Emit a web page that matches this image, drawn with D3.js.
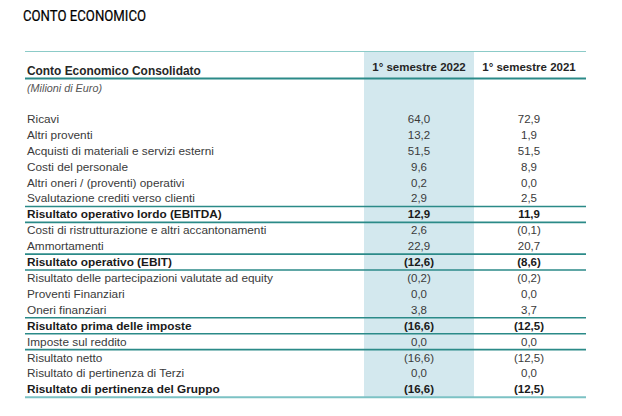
<!DOCTYPE html>
<html>
<head>
<meta charset="utf-8">
<script src="https://cdn.jsdelivr.net/npm/d3@7"></script>
<style>
  body { margin: 0; background: #fff; }
  svg { display: block; }
</style>
</head>
<body>
<script>
// righe del conto economico
var labels = [
  "Ricavi",
  "Altri proventi",
  "Acquisti di materiali e servizi esterni",
  "Costi del personale",
  "Altri oneri / (proventi) operativi",
  "Svalutazione crediti verso clienti",
  "Risultato operativo lordo (EBITDA)",
  "Costi di ristrutturazione e altri accantonamenti",
  "Ammortamenti",
  "Risultato operativo (EBIT)",
  "Risultato delle partecipazioni valutate ad equity",
  "Proventi Finanziari",
  "Oneri finanziari",
  "Risultato prima delle imposte",
  "Imposte sul reddito",
  "Risultato netto",
  "Risultato di pertinenza di Terzi",
  "Risultato di pertinenza del Gruppo"
];
var values2022 = [64.0, 13.2, 51.5, 9.6, 0.2, 2.9, 12.9, 2.6, 22.9, -12.6, -0.2, 0.0, 3.8, -16.6, 0.0, -16.6, 0.0, -16.6];
var values2021 = [72.9, 1.9, 51.5, 8.9, 0.0, 2.5, 11.9, -0.1, 20.7, -8.6, -0.2, 0.0, 3.7, -12.5, 0.0, -12.5, 0.0, -12.5];
var columns = ["1° semestre 2022", "1° semestre 2021"];
var boldRows = [6, 9, 13, 17];
var lineAfter = [5, 6, 8, 9, 12, 13, 14]; // righe seguite da un filetto

var width = 622, height = 416;
var left = 25, right = 586;

var svg = d3.select("body").append("svg")
    .attr("width", width)
    .attr("height", height);

var y = d3.scaleBand()
    .domain(d3.range(labels.length))
    .range([111, 397.3]);

var x = d3.scaleBand()
    .domain(columns)
    .range([364, 584]);

function fmt(v) {
  var s = Math.abs(v).toFixed(1).replace(".", ",");
  return v < 0 ? "(" + s + ")" : s;
}

// titolo
svg.append("text")
    .attr("x", 23)
    .attr("y", 21)
    .attr("textLength", 123)
    .attr("lengthAdjust", "spacingAndGlyphs")
    .style("font-family", "Roboto, sans-serif")
    .style("font-size", "14px")
    .style("fill", "#000")
    .style("stroke", "#000")
    .style("stroke-width", 0.2)
    .text("CONTO ECONOMICO");

// colonna evidenziata
svg.append("rect")
    .attr("x", x(columns[0]))
    .attr("y", 51)
    .attr("width", 110)
    .attr("height", 346)
    .attr("fill", "#d3e8ee");

// filetti
svg.append("line")
    .attr("x1", left).attr("x2", right)
    .attr("y1", 51.5).attr("y2", 51.5)
    .attr("stroke", "#8ccbc8").attr("stroke-width", 1.2);

svg.append("line")
    .attr("x1", left).attr("x2", right)
    .attr("y1", 78.5).attr("y2", 78.5)
    .attr("stroke", "#2b8a88").attr("stroke-width", 2.2);

svg.selectAll(".sep")
    .data(lineAfter)
    .enter().append("line")
    .attr("class", "sep")
    .attr("x1", left).attr("x2", right)
    .attr("y1", function(d) { return y(d) + y.bandwidth(); })
    .attr("y2", function(d) { return y(d) + y.bandwidth(); })
    .attr("stroke", "#2b8a88").attr("stroke-width", 1.6);

svg.append("line")
    .attr("x1", left).attr("x2", right)
    .attr("y1", 397.3).attr("y2", 397.3)
    .attr("stroke", "#7cc2c4").attr("stroke-width", 2);

var font = "'Liberation Sans', Arial, sans-serif";

// intestazione
svg.append("text")
    .attr("x", 27).attr("y", 75)
    .style("font-family", font)
    .style("font-size", "11.9px")
    .style("font-weight", "bold")
    .style("fill", "#262626")
    .text("Conto Economico Consolidato");

svg.selectAll(".colhead")
    .data(columns)
    .enter().append("text")
    .attr("class", "colhead")
    .attr("x", function(d) { return x(d) + x.bandwidth() / 2; })
    .attr("y", 71)
    .attr("text-anchor", "middle")
    .style("font-family", font)
    .style("font-size", "11.5px")
    .style("font-weight", "bold")
    .style("fill", "#262626")
    .text(function(d) { return d; });

svg.append("text")
    .attr("x", 27).attr("y", 92)
    .style("font-family", font)
    .style("font-size", "10.8px")
    .style("font-style", "italic")
    .style("fill", "#555")
    .text("(Milioni di Euro)");

// righe
var row = svg.selectAll(".row")
    .data(labels)
    .enter().append("g")
    .attr("class", "row")
    .attr("transform", function(d, i) { return "translate(0," + (y(i) + y.bandwidth() / 2 + 4) + ")"; })
    .style("font-family", font)
    .style("font-weight", function(d, i) { return boldRows.indexOf(i) >= 0 ? "bold" : "normal"; })
    .style("fill", function(d, i) { return boldRows.indexOf(i) >= 0 ? "#1a1a1a" : "#3a3a3a"; });

row.append("text")
    .attr("x", 27)
    .style("font-size", "11.8px")
    .text(function(d) { return d; });

row.append("text")
    .attr("x", x(columns[0]) + x.bandwidth() / 2)
    .attr("text-anchor", "middle")
    .style("font-size", "11.5px")
    .text(function(d, i) { return fmt(values2022[i]); });

row.append("text")
    .attr("x", x(columns[1]) + x.bandwidth() / 2)
    .attr("text-anchor", "middle")
    .style("font-size", "11.5px")
    .text(function(d, i) { return fmt(values2021[i]); });
</script>
</body>
</html>
